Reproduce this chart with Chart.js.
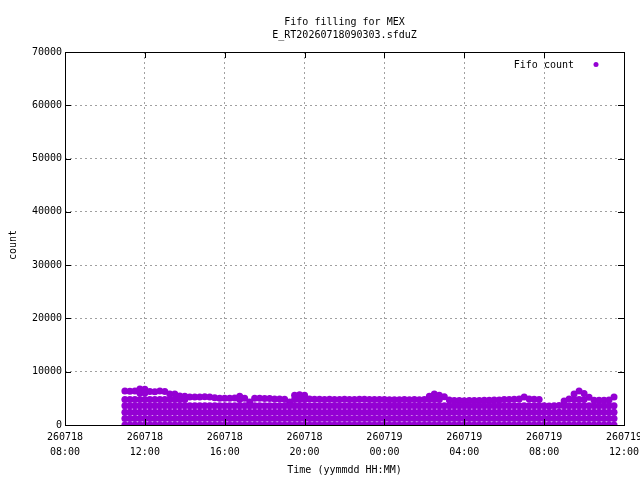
<!DOCTYPE html>
<html>
<head>
<meta charset="utf-8">
<title>Fifo filling for MEX</title>
<script src="https://cdn.jsdelivr.net/npm/chart.js@4.4.1/dist/chart.umd.min.js"></script>
<style>
  body { margin: 0; background: #fff; }
  #cadre { width: 640px; height: 480px; }
</style>
</head>
<body>
<div id="cadre"><canvas id="fifo" width="640" height="480"></canvas></div>
<script>
// temps en heures depuis 260718 08:00, un releve toutes les 15 min a partir de 11:00
const debutReleves = 3
const pasReleves = 0.25

// enveloppe haute du nuage (count), de 260718 11:00 a 260719 11:30
const sommets = [
  6400, 6350, 6400, 6750, 6700, 6300, 6250, 6400, 6300, 5800, 5800, 5450,
  5400, 5250, 5250, 5250, 5300, 5250, 5100, 5000, 5000, 5000, 5050, 5400,
  5000, 4300, 5000, 5000, 4950, 4950, 4900, 4900, 4850, 4300, 5600, 5700,
  5600, 4900, 4850, 4850, 4800, 4850, 4800, 4800, 4850, 4800, 4800, 4850,
  4850, 4800, 4800, 4800, 4800, 4750, 4750, 4750, 4800, 4750, 4800, 4750,
  4800, 5400, 5800, 5600, 5300, 4700, 4600, 4600, 4550, 4600, 4600, 4600,
  4650, 4650, 4700, 4700, 4800, 4800, 4850, 4900, 5250, 4900, 4850, 4800,
  3600, 3550, 3600, 3650, 4500, 4900, 5800, 6400, 5900, 5200, 4650, 4650,
  4650, 4700, 5250
]

// paliers horizontaux visibles sous l'enveloppe
const paliers = [0, 1200, 2400, 3600, 4800, 6000]

// graduations
const ticksY = [0, 10000, 20000, 30000, 40000, 50000, 60000, 70000]
const ticksX = [0, 4, 8, 12, 16, 20, 24, 28]
const joursX = ["260718", "260718", "260718", "260718", "260719", "260719", "260719", "260719"]
const heuresX = ["08:00", "12:00", "16:00", "20:00", "00:00", "04:00", "08:00", "12:00"]

const titre = ["Fifo filling for MEX", "E_RT20260718090303.sfduZ"]
const titreX = "Time (yymmdd HH:MM)"
const titreY = "count"
const legende = "Fifo count"

const violet = "#9400d3"
const police = '"DejaVu Sans Mono", "Liberation Mono", monospace'

// construction des points : le sommet de chaque releve + les paliers en dessous
let points = []
for (let i = 0; i < sommets.length; i++) {
  let t = debutReleves + i * pasReleves
  points.push({x: t, y: sommets[i]})
  for (const p of paliers) {
    if (p < sommets[i] - 500) points.push({x: t, y: p})
  }
}

// cadre, petites graduations internes, titres et legende facon gnuplot
const habillage = {
  id: "habillage",
  afterDatasetsDraw(chart) {
    const {ctx, chartArea, scales} = chart
    const {left, right, top, bottom} = chartArea
    ctx.save()
    ctx.strokeStyle = "#000"
    ctx.lineWidth = 1
    ctx.beginPath()
    for (const v of ticksY) {
      let py = Math.round(scales.y.getPixelForValue(v)) + 0.5
      ctx.moveTo(left, py); ctx.lineTo(left + 6, py)
      ctx.moveTo(right, py); ctx.lineTo(right - 6, py)
    }
    for (const v of ticksX) {
      let px = Math.round(scales.x.getPixelForValue(v)) + 0.5
      ctx.moveTo(px, bottom); ctx.lineTo(px, bottom - 6)
      ctx.moveTo(px, top); ctx.lineTo(px, top + 6)
    }
    ctx.stroke()
    ctx.strokeRect(left + 0.5, top + 0.5, right - left, bottom - top)

    ctx.fillStyle = "#000"
    ctx.font = "10px " + police
    ctx.textBaseline = "middle"
    ctx.textAlign = "center"
    let milieu = (left + right) / 2
    ctx.fillText(titre[0], milieu, 22)
    ctx.fillText(titre[1], milieu, 35)
    ctx.fillText(titreX, milieu, 470)

    ctx.save()
    ctx.translate(13, 245)
    ctx.rotate(-Math.PI / 2)
    ctx.fillText(titreY, 0, 0)
    ctx.restore()

    ctx.textAlign = "right"
    ctx.fillText(legende, 574, 65)
    ctx.fillStyle = violet
    ctx.beginPath()
    ctx.arc(596, 64.5, 2.5, 0, Math.PI * 2)
    ctx.fill()
    ctx.restore()
  }
}

const fifoChart = new Chart(document.getElementById("fifo"), {
  type: "scatter",
  data: {
    datasets: [{
      label: legende,
      data: points,
      backgroundColor: violet,
      borderWidth: 0,
      pointRadius: 3.5,
      pointHoverRadius: 3.5
    }]
  },
  options: {
    responsive: false,
    animation: false,
    devicePixelRatio: 1,
    events: [],
    layout: {padding: {top: 52, right: 16, bottom: 0, left: 0}},
    plugins: {legend: {display: false}, title: {display: false}, tooltip: {enabled: false}},
    scales: {
      x: {
        type: "linear",
        min: 0,
        max: 28,
        afterBuildTicks: axis => { axis.ticks = ticksX.map(v => ({value: v})) },
        afterFit: axis => { axis.height = 55; axis.paddingLeft = 0; axis.paddingRight = 0 },
        grid: {color: "#a0a0a0", lineWidth: 1, drawTicks: false},
        border: {display: false, dash: [2, 3]},
        ticks: {
          color: "#000",
          padding: 4.5,
          maxRotation: 0,
          autoSkip: false,
          font: {family: police, size: 10, lineHeight: 1.5},
          callback: (v) => {
            let i = ticksX.indexOf(v)
            return [joursX[i], heuresX[i]]
          }
        }
      },
      y: {
        min: 0,
        max: 70000,
        afterBuildTicks: axis => { axis.ticks = ticksY.map(v => ({value: v})) },
        afterFit: axis => { axis.width = 65; axis.paddingTop = 0; axis.paddingBottom = 0 },
        grid: {color: "#a0a0a0", lineWidth: 1, drawTicks: false},
        border: {display: false, dash: [2, 3]},
        ticks: {
          color: "#000",
          padding: 3,
          font: {family: police, size: 10},
          callback: (v) => String(v)
        }
      }
    }
  },
  plugins: [habillage]
})
</script>
</body>
</html>
